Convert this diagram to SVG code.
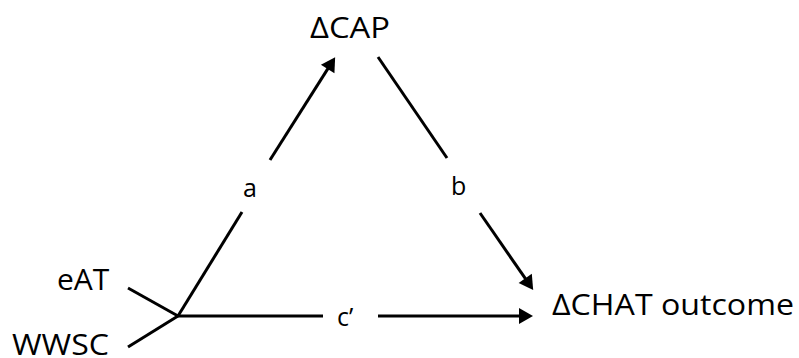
<svg xmlns="http://www.w3.org/2000/svg" width="799" height="358" viewBox="0 0 799 358">
<style>
.ln{stroke:#000;stroke-width:3;fill:none}
.big{font-family:"Open Sans","Liberation Sans",sans-serif;font-size:30px;fill:#000}
.sm{font-family:"Open Sans","Liberation Sans",sans-serif;font-size:25px;fill:#000}
</style>
<defs>
<marker id="ah" markerUnits="userSpaceOnUse" markerWidth="16" markerHeight="18" refX="4" refY="8" orient="auto" overflow="visible">
<path d="M0,0 L14,8 L0,16 z" fill="#000"/>
</marker>
</defs>
<rect width="799" height="358" fill="#fff"/>
<g id="connectors">
<line class="ln" x1="128" y1="288" x2="178" y2="316"/>
<line class="ln" x1="128" y1="347" x2="178" y2="316"/>
<line class="ln" x1="178" y1="316" x2="242" y2="212"/>
<line class="ln" x1="270" y1="160" x2="329.8" y2="65.6" marker-end="url(#ah)"/>
<line class="ln" x1="378" y1="57" x2="447" y2="158"/>
<line class="ln" x1="480" y1="213" x2="527.5" y2="281.7" marker-end="url(#ah)"/>
<line class="ln" x1="177" y1="316" x2="323" y2="316"/>
<line class="ln" x1="378" y1="316" x2="523" y2="316" marker-end="url(#ah)"/>
<text class="sm" x="243" y="197">a</text>
<text class="sm" x="451" y="195">b</text>
<text class="sm" x="337" y="326">c’</text>
</g>
<g id="cap"><text class="big" x="310" y="38" textLength="80" lengthAdjust="spacingAndGlyphs">ΔCAP</text></g>
<g id="eat"><text class="big" x="57" y="290">eAT</text></g>
<g id="wwsc"><text class="big" x="12" y="355" textLength="97" lengthAdjust="spacingAndGlyphs">WWSC</text></g>
<g id="chat"><text class="big" x="552" y="315" textLength="242" lengthAdjust="spacingAndGlyphs">ΔCHAT outcome</text></g>
</svg>
